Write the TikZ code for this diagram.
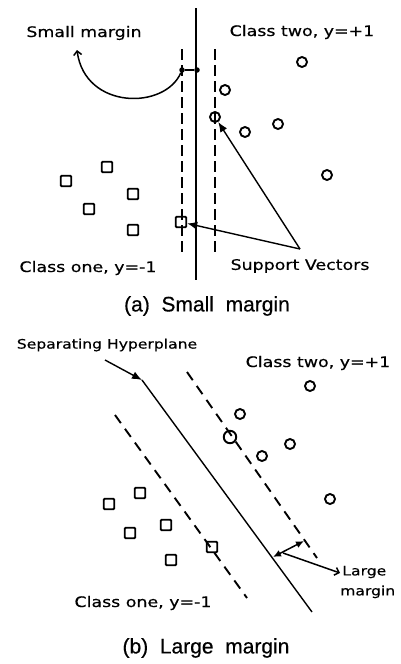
\documentclass[tikz,border=0pt]{standalone}
\usepackage{fontspec}
\setmainfont{Liberation Sans}
\newfontfamily\labfont[FakeStretch=1.2,FakeBold=0.4]{DejaVu Sans}
\newfontfamily\capfont[FakeBold=0.5]{Liberation Sans}
\usetikzlibrary{arrows.meta,calc}
\begin{document}
\begin{tikzpicture}[x=1pt,y=-1pt,
  lab/.style={font=\labfont\fontsize{14.5}{18}\selectfont, inner sep=0pt},
  labsm/.style={font=\labfont\fontsize{13}{20}\selectfont, inner sep=0pt},
  capt/.style={font=\capfont\fontsize{21}{24}\selectfont, inner sep=0pt},
  circ/.style={circle, draw, line width=1.9pt, minimum size=10pt, inner sep=0pt},
  bigcirc/.style={circle, draw, line width=1.9pt, minimum size=12.5pt, inner sep=0pt},
  sq/.style={rectangle, draw, line width=1.9pt, minimum size=10.5pt, inner sep=0pt, rounded corners=1pt},
  dotn/.style={circle, fill, minimum size=5.5pt, inner sep=0pt},
  hypA/.style={line width=2.5pt},
  margA/.style={line width=2.5pt, dash pattern=on 11pt off 5pt},
  hypB/.style={line width=1.4pt},
  margB/.style={line width=1.9pt, dash pattern=on 10pt off 7pt},
  pointer/.style={line width=1.4pt, -{Latex[length=10pt,width=8pt]}}
]
\useasboundingbox (0,0) rectangle (400,664);

% ---------------- (a) small margin ----------------
\coordinate (aTop) at (196,8);
\coordinate (aBot) at (196,280);
\coordinate (aL1) at (182,49);
\coordinate (aL2) at (182,253);
\coordinate (aR1) at (215,49);
\coordinate (aR2) at (215,253);
\draw[hypA] (aTop) -- (aBot);
\draw[margA] (aL1) -- (aL2);
\draw[margA] (aR1) -- (aR2);

\node[dotn] (pa1) at (182,70) {};
\node[dotn] (pa2) at (197,70) {};
\draw[line width=1.5pt] (pa1) -- (pa2);
\coordinate (smEnd) at (77,50);
\draw[line width=1.5pt, -{Straight Barb[length=4pt,width=8pt]}] (pa1) .. controls (165,110) and (85,110) .. (smEnd);

\node[lab] (smallm) at (84,33) {Small margin};
\node[lab] (twoA) at (302,32) {Class two, y=+1};
\node[lab] (oneA) at (88,268) {Class one, y=-1};
\node[lab] (svlab) at (300,266) {Support Vectors};

\node[circ] (ca1) at (302,62) {};
\node[circ] (ca2) at (225,90) {};
\node[circ] (ca3) at (215,117) {};
\node[circ] (ca4) at (245,132) {};
\node[circ] (ca5) at (278,124) {};
\node[circ] (ca6) at (327,175) {};

\node[sq] (sa1) at (66,181) {};
\node[sq] (sa2) at (107,167) {};
\node[sq] (sa3) at (133,194) {};
\node[sq] (sa4) at (89,209) {};
\node[sq] (sa5) at (133,230) {};
\node[sq] (sa6) at (181,222) {};

\coordinate (apex) at (300,249);
\draw[pointer] (apex) -- (ca3);
\draw[pointer] (apex) -- (sa6);

\node[capt] (capA) at (207,306) {(a)\ \ Small\ \ margin};

% ---------------- (b) large margin ----------------
\coordinate (bTop) at (142,380);
\coordinate (bBot) at (312,612);
\coordinate (bU1) at (187,372);
\coordinate (bU2) at (317,558);
\coordinate (bL1) at (115,415);
\coordinate (bL2) at (247,598);
\draw[hypB] (bTop) -- (bBot);
\draw[margB] (bU1) -- (bU2);
\draw[margB] (bL1) -- (bL2);

\node[labsm] (seph) at (107,345) {Separating Hyperplane};
\node[lab] (twoB) at (318,363) {Class two, y=+1};
\node[lab] (oneB) at (143,603) {Class one, y=-1};
\node[labsm, align=left, anchor=west] (lmar) at (340,582) {\,Large\\margin};

\coordinate (shTail) at (105,360);
\draw[pointer] (shTail) -- (bTop);

\node[circ] (cb1) at (310,386) {};
\node[circ] (cb2) at (240,414) {};
\node[bigcirc] (cb3) at (230,437) {};
\node[circ] (cb4) at (290,444) {};
\node[circ] (cb5) at (262,456) {};
\node[circ] (cb6) at (330,499) {};

\node[sq] (sb1) at (140,493) {};
\node[sq] (sb2) at (109,504) {};
\node[sq] (sb3) at (166,525) {};
\node[sq] (sb4) at (130,533) {};
\node[sq] (sb5) at (171,560) {};
\node[sq] (sb6) at (212,547) {};

\coordinate (m1) at (273,557);
\coordinate (m2) at (304,541);
\draw[line width=1.5pt, {Latex[length=8pt,width=7pt]}-{Latex[length=8pt,width=7pt]}] (m1) -- (m2);
\coordinate (mTail) at (283,553);
\draw[line width=1.5pt, -{Straight Barb[length=4pt,width=8pt]}] (mTail) -- (lmar.west |- 0,573);

\node[capt] (capB) at (206,648) {(b)\ \ Large\ \ margin};
\end{tikzpicture}
\end{document}
